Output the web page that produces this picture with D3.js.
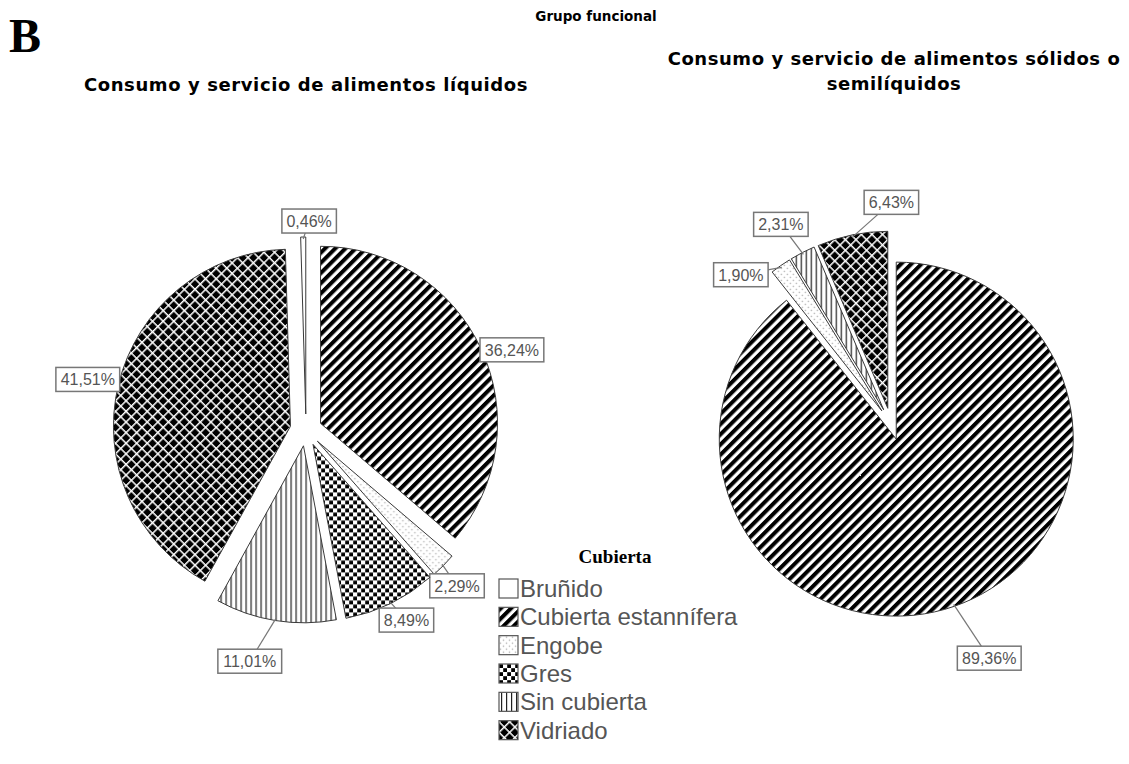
<!DOCTYPE html>
<html>
<head>
<meta charset="utf-8">
<script src="https://cdn.jsdelivr.net/npm/d3@7"></script>
<style>
  body { margin: 0; background: #fff; }
</style>
</head>
<body>
<div id="chart"></div>
<script>
// legend categories (Cubierta)
const categories = ["Bruñido", "Cubierta estannífera", "Engobe", "Gres", "Sin cubierta", "Vidriado"];

// left pie: slices clockwise from 12 o'clock
const liquidCats = ["Cubierta estannífera", "Engobe", "Gres", "Sin cubierta", "Vidriado", "Bruñido"];
const liquidValues = [36.24, 2.29, 8.49, 11.01, 41.51, 0.46];

// right pie
const solidCats = ["Cubierta estannífera", "Engobe", "Sin cubierta", "Vidriado"];
const solidValues = [89.36, 1.90, 2.31, 6.43];

const W = 1129, H = 764;
const R = 177, EXPLODE = 16;

const svg = d3.select("#chart").append("svg")
  .attr("width", W).attr("height", H)
  .style("font-family", "Liberation Sans, Arial, sans-serif");

// fill patterns
const defs = svg.append("defs");
function pattern(id, w, h, tr) {
  const p = defs.append("pattern").attr("id", id)
    .attr("patternUnits", "userSpaceOnUse")
    .attr("width", w).attr("height", h);
  if (tr) p.attr("patternTransform", tr);
  p.append("rect").attr("width", w).attr("height", h).attr("fill", "#fff");
  return p;
}
let p = pattern("p-est", 7.2, 7.2, "rotate(45)");
p.append("rect").attr("width", 4).attr("height", 7.2).attr("fill", "#000");

p = pattern("p-vid", 7.5, 7.5, "rotate(45)");
p.append("rect").attr("x", 1.5).attr("y", 1.5).attr("width", 6).attr("height", 6).attr("fill", "#000");

p = pattern("p-gres", 8, 8);
p.append("rect").attr("x", 0.2).attr("y", 0.2).attr("width", 3.8).attr("height", 3.8).attr("fill", "#000");
p.append("rect").attr("x", 4.2).attr("y", 4.2).attr("width", 3.8).attr("height", 3.8).attr("fill", "#000");

p = pattern("p-sin", 5, 5);
p.append("rect").attr("x", 2).attr("width", 1.2).attr("height", 5).attr("fill", "#222");

p = pattern("p-eng", 6, 6);
p.append("circle").attr("cx", 1.5).attr("cy", 1.5).attr("r", 0.8).attr("fill", "#b0b0b0");
p.append("circle").attr("cx", 4.5).attr("cy", 4.5).attr("r", 0.8).attr("fill", "#b0b0b0");

const fill = d3.scaleOrdinal()
  .domain(categories)
  .range(["#fff", "url(#p-est)", "url(#p-eng)", "url(#p-gres)", "url(#p-sin)", "url(#p-vid)"]);

const fmt = v => d3.format(".2f")(v).replace(".", ",") + "%";

// titles
svg.append("text").attr("x", 9).attr("y", 52)
  .style("font-family", "Liberation Serif, Times New Roman, serif")
  .style("font-weight", "bold").style("font-size", "48px").text("B");

svg.append("text").attr("x", 596).attr("y", 21).attr("text-anchor", "middle")
  .style("font-family", "DejaVu Sans, sans-serif").style("font-weight", "bold")
  .style("font-size", "13.5px").text("Grupo funcional");

svg.append("text").attr("x", 306).attr("y", 91).attr("text-anchor", "middle")
  .style("font-family", "DejaVu Sans, sans-serif").style("font-weight", "bold")
  .style("font-size", "18px").style("letter-spacing", "0.6px")
  .text("Consumo y servicio de alimentos líquidos");

const t2 = svg.append("text").attr("text-anchor", "middle")
  .style("font-family", "DejaVu Sans, sans-serif").style("font-weight", "bold")
  .style("font-size", "18px").style("letter-spacing", "0.55px");
t2.append("tspan").attr("x", 894).attr("y", 65).text("Consumo y servicio de alimentos sólidos o");
t2.append("tspan").attr("x", 894).attr("y", 90).text("semilíquidos");

// label nudges (angle in degrees, distance from slice vertex)
const liquidLabelPos = [[69, 205], [136, 201], [152, 199], [194, 222], [283, 208], [1, 193]];
const solidLabelPos = [[157, 238], [314, 196], [331, 212], [1, 206]];

function drawPie(cats, values, cx, cy, labelPos) {
  const pie = d3.pie().sort(null).value(d => d.v);
  const arcs = pie(cats.map((c, i) => ({ c, v: values[i] })));
  const arc = d3.arc().innerRadius(0).outerRadius(R);
  const g = svg.append("g").attr("transform", `translate(${cx},${cy})`);

  const slice = g.selectAll("g.slice").data(arcs).join("g")
    .attr("class", "slice")
    .attr("transform", d => {
      const m = (d.startAngle + d.endAngle) / 2;
      return `translate(${Math.sin(m) * EXPLODE},${-Math.cos(m) * EXPLODE})`;
    });

  slice.append("path")
    .attr("d", arc)
    .attr("fill", d => fill(d.data.c))
    .attr("stroke", "#3a3a3a").attr("stroke-width", 1);

  // labels
  slice.each(function (d, i) {
    const s = d3.select(this);
    const m = (d.startAngle + d.endAngle) / 2;
    const a = labelPos[i][0] * Math.PI / 180, dist = labelPos[i][1];
    const lx = Math.sin(a) * dist, ly = -Math.cos(a) * dist;
    s.append("line")
      .attr("x1", Math.sin(m) * (R - 2)).attr("y1", -Math.cos(m) * (R - 2))
      .attr("x2", lx).attr("y2", ly)
      .attr("stroke", "#777").attr("stroke-width", 1.2);
    const txt = fmt(d.data.v);
    const tw = txt.length * 9.3 + 2;
    s.append("rect")
      .attr("x", lx - tw / 2 - 3).attr("y", ly - 12)
      .attr("width", tw + 6).attr("height", 24)
      .attr("fill", "#fff").attr("stroke", "#777").attr("stroke-width", 1.5);
    s.append("text")
      .attr("x", lx).attr("y", ly + 6)
      .attr("text-anchor", "middle")
      .style("font-size", "16px").attr("fill", "#555")
      .text(txt);
  });
}

drawPie(liquidCats, liquidValues, 306, 430, liquidLabelPos);
drawPie(solidCats, solidValues, 891, 424, solidLabelPos);

// legend
const lg = svg.append("g").attr("transform", "translate(499,0)");
lg.append("text").attr("x", 116).attr("y", 563).attr("text-anchor", "middle")
  .style("font-family", "Liberation Serif, Times New Roman, serif")
  .style("font-weight", "bold").style("font-size", "19px").text("Cubierta");

const ly = d3.scaleBand().domain(categories).range([579, 749]);
const item = lg.selectAll("g.item").data(categories).join("g")
  .attr("class", "item")
  .attr("transform", d => `translate(0,${ly(d)})`);
item.append("rect").attr("width", 19).attr("height", 19)
  .attr("fill", d => fill(d)).attr("stroke", "#555").attr("stroke-width", 1.2);
item.append("text").attr("x", 21).attr("y", 18)
  .style("font-size", "24px").attr("fill", "#555")
  .text(d => d);
</script>
</body>
</html>
